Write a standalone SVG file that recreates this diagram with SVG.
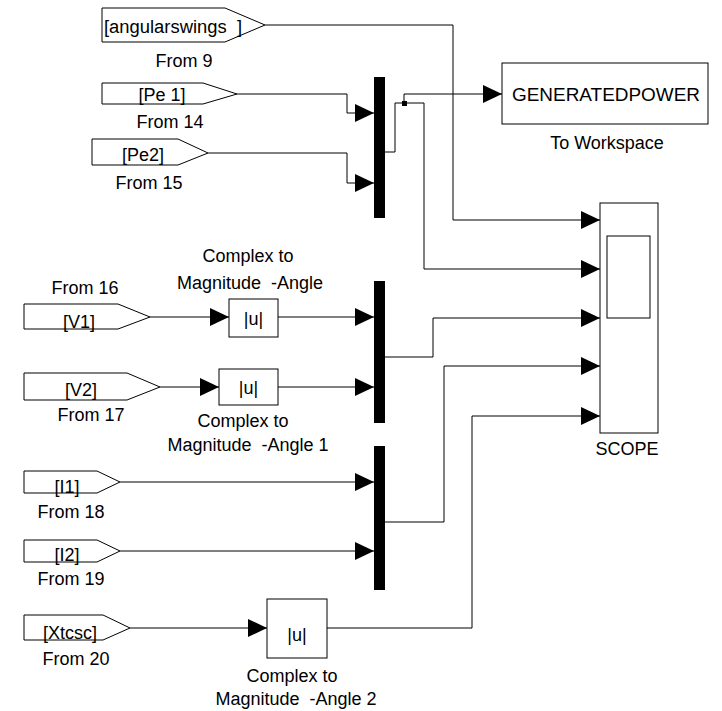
<svg xmlns="http://www.w3.org/2000/svg" width="722" height="711" viewBox="0 0 722 711">
<style>
text{font-family:"Liberation Sans",Arial,sans-serif;font-size:18px;fill:#000;white-space:pre}
.c{text-anchor:middle}
.blk{fill:#fff;stroke:#000;stroke-width:1}
.mux{fill:#000}
.w{fill:none;stroke:#000;stroke-width:1;marker-end:url(#ah)}
.wn{fill:none;stroke:#000;stroke-width:1}
</style>
<defs>
<marker id="ah" markerUnits="userSpaceOnUse" markerWidth="19" markerHeight="18" refX="19" refY="9" orient="auto">
<path d="M0,0 L19,9 L0,18 Z" fill="#000"/>
</marker>
</defs>
<rect width="722" height="711" fill="#fff"/>
<g id="connectors">
<path class="w" d="M265,25 H453 V220 H600"/>
<path class="w" d="M237,94 H347 V113 H374"/>
<path class="w" d="M208,153 H347 V183 H374"/>
<path class="w" d="M385,152 H395 V103 H424 V269 H600"/>
<path class="w" d="M404,103 V94 H502"/>
<rect x="402" y="101" width="5" height="5" fill="#000"/>
<path class="w" d="M150,317 H229"/>
<path class="w" d="M278,317 H374"/>
<path class="w" d="M160,387 H219"/>
<path class="w" d="M278,387 H374"/>
<path class="w" d="M385,357 H433 V318 H600"/>
<path class="w" d="M120,482 H374"/>
<path class="w" d="M120,551 H374"/>
<path class="w" d="M385,522 H444 V366 H600"/>
<path class="w" d="M130,628 H267"/>
<path class="w" d="M327,628 H472 V416 H600"/>
</g>
<g id="from9">
<path class="blk" d="M102,8 H225 L265,25 L225,42 H102 Z"/>
<text x="104" y="33" textLength="138" lengthAdjust="spacingAndGlyphs">[angularswings  ]</text>
<text class="c" x="184" y="67">From 9</text>
</g>
<g id="from14">
<path class="blk" d="M102,83 H203 L237,94 L203,104 H102 Z"/>
<text class="c" x="162" y="101">[Pe 1]</text>
<text class="c" x="170" y="128">From 14</text>
</g>
<g id="from15">
<path class="blk" d="M92,139 H178 L208,153 L178,165 H92 Z"/>
<text class="c" x="143" y="161">[Pe2]</text>
<text class="c" x="149" y="189">From 15</text>
</g>
<g id="mux1"><rect class="mux" x="374" y="77" width="11" height="141"/></g>
<g id="toworkspace">
<rect class="blk" x="502" y="63" width="206" height="61"/>
<text x="512" y="101" textLength="188" lengthAdjust="spacingAndGlyphs">GENERATEDPOWER</text>
<text class="c" x="607" y="149">To Workspace</text>
</g>
<g id="scope">
<rect class="blk" x="600" y="203" width="58" height="230"/>
<rect class="blk" x="607" y="236" width="43" height="82"/>
<text class="c" x="627" y="455">SCOPE</text>
</g>
<g id="from16">
<text class="c" x="85" y="294">From 16</text>
<path class="blk" d="M24,304 H118 L150,317 L118,329 H24 Z"/>
<text class="c" x="79" y="328">[V1]</text>
</g>
<g id="c2m">
<text class="c" x="248" y="262">Complex to</text>
<text class="c" x="250" y="289">Magnitude  -Angle</text>
<rect class="blk" x="229" y="299" width="49" height="38"/>
<text class="c" x="253.5" y="325">|u|</text>
</g>
<g id="from17">
<path class="blk" d="M24,373 H127 L160,387 L127,400 H24 Z"/>
<text class="c" x="81" y="396">[V2]</text>
<text class="c" x="91" y="421">From 17</text>
</g>
<g id="c2m1">
<rect class="blk" x="219" y="369" width="59" height="36"/>
<text class="c" x="248.5" y="394">|u|</text>
<text class="c" x="243" y="427">Complex to</text>
<text class="c" x="248" y="451">Magnitude  -Angle 1</text>
</g>
<g id="mux2"><rect class="mux" x="374" y="281" width="11" height="142"/></g>
<g id="from18">
<path class="blk" d="M24,471 H97 L120,482 L97,493 H24 Z"/>
<text class="c" x="67" y="493">[I1]</text>
<text class="c" x="71" y="518">From 18</text>
</g>
<g id="from19">
<path class="blk" d="M24,540 H97 L120,551 L97,562 H24 Z"/>
<text class="c" x="67" y="561">[I2]</text>
<text class="c" x="71" y="585">From 19</text>
</g>
<g id="mux3"><rect class="mux" x="374" y="446" width="11" height="144"/></g>
<g id="from20">
<path class="blk" d="M24,615 H103 L130,628 L103,640 H24 Z"/>
<text class="c" x="70" y="639">[Xtcsc]</text>
<text class="c" x="76" y="665">From 20</text>
</g>
<g id="c2m2">
<rect class="blk" x="267" y="599" width="60" height="59"/>
<text class="c" x="297" y="641">|u|</text>
<text class="c" x="292" y="682">Complex to</text>
<text class="c" x="296" y="705">Magnitude  -Angle 2</text>
</g>
</svg>
